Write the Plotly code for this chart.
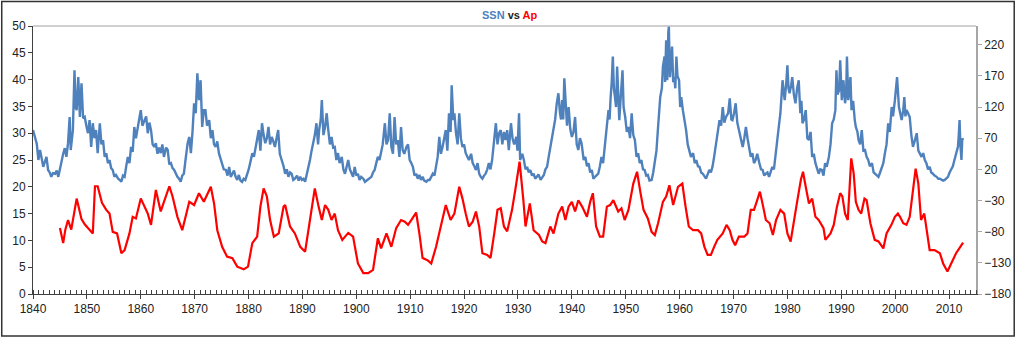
import plotly.graph_objects as go

# ---- data ----
ssn_years = [1840.0, 1840.4, 1840.7, 1841.0, 1841.3, 1841.6, 1841.9, 1842.2, 1842.5, 1842.8, 1843.1, 1843.4, 1843.7, 1844.1, 1844.4, 1844.7, 1845.0, 1845.3, 1845.6, 1845.9, 1846.2, 1846.5, 1846.8, 1847.0, 1847.4, 1847.7, 1847.9, 1848.1, 1848.4, 1848.7, 1849.0, 1849.3, 1849.6, 1849.9, 1850.2, 1850.5, 1850.8, 1851.1, 1851.4, 1851.7, 1852.0, 1852.4, 1852.7, 1853.0, 1853.3, 1853.6, 1853.9, 1854.2, 1854.5, 1854.8, 1855.1, 1855.4, 1855.8, 1856.1, 1856.4, 1856.7, 1857.0, 1857.3, 1857.6, 1857.9, 1858.2, 1858.5, 1858.8, 1859.1, 1859.4, 1859.7, 1860.0, 1860.3, 1860.7, 1861.0, 1861.3, 1861.6, 1861.9, 1862.2, 1862.5, 1862.8, 1863.1, 1863.4, 1863.7, 1864.0, 1864.3, 1864.7, 1865.0, 1865.3, 1865.6, 1865.9, 1866.2, 1866.5, 1866.8, 1867.1, 1867.4, 1867.7, 1868.0, 1868.3, 1868.7, 1869.0, 1869.3, 1869.6, 1869.9, 1870.2, 1870.5, 1870.8, 1871.1, 1871.4, 1871.7, 1872.0, 1872.3, 1872.7, 1873.0, 1873.3, 1873.6, 1873.9, 1874.2, 1874.5, 1874.8, 1875.1, 1875.4, 1875.8, 1876.1, 1876.4, 1876.7, 1877.0, 1877.3, 1877.6, 1877.9, 1878.2, 1878.5, 1878.8, 1879.1, 1879.4, 1879.7, 1880.0, 1880.3, 1880.7, 1881.0, 1881.3, 1881.6, 1881.9, 1882.2, 1882.5, 1882.8, 1883.1, 1883.4, 1883.7, 1884.0, 1884.3, 1884.6, 1884.9, 1885.2, 1885.5, 1885.8, 1886.2, 1886.5, 1886.8, 1887.1, 1887.4, 1887.7, 1888.0, 1888.3, 1888.6, 1889.0, 1889.3, 1889.6, 1889.9, 1890.2, 1890.5, 1890.8, 1891.1, 1891.4, 1891.7, 1892.0, 1892.3, 1892.6, 1892.9, 1893.1, 1893.4, 1893.6, 1893.9, 1894.2, 1894.5, 1894.8, 1895.1, 1895.4, 1895.7, 1896.0, 1896.3, 1896.6, 1896.9, 1897.3, 1897.6, 1897.9, 1898.2, 1898.5, 1898.8, 1899.1, 1899.4, 1899.7, 1900.0, 1900.3, 1900.6, 1900.9, 1901.3, 1901.6, 1901.9, 1902.2, 1902.5, 1902.8, 1903.1, 1903.4, 1903.7, 1904.0, 1904.3, 1904.6, 1904.9, 1905.3, 1905.6, 1905.9, 1906.2, 1906.5, 1906.8, 1907.1, 1907.4, 1907.7, 1908.0, 1908.3, 1908.6, 1908.9, 1909.3, 1909.6, 1909.9, 1910.2, 1910.5, 1910.8, 1911.1, 1911.4, 1911.7, 1912.0, 1912.3, 1912.6, 1913.0, 1913.3, 1913.6, 1913.9, 1914.2, 1914.5, 1914.8, 1915.1, 1915.4, 1915.7, 1916.0, 1916.3, 1916.6, 1916.9, 1917.2, 1917.5, 1917.7, 1918.0, 1918.2, 1918.5, 1918.8, 1919.1, 1919.4, 1919.7, 1920.0, 1920.3, 1920.6, 1920.9, 1921.3, 1921.6, 1921.9, 1922.2, 1922.5, 1922.8, 1923.1, 1923.4, 1923.7, 1924.0, 1924.3, 1924.6, 1924.9, 1925.2, 1925.5, 1925.9, 1926.2, 1926.5, 1926.8, 1927.1, 1927.4, 1927.7, 1928.0, 1928.3, 1928.7, 1929.0, 1929.3, 1929.7, 1929.9, 1930.2, 1930.4, 1930.8, 1931.1, 1931.4, 1931.7, 1932.0, 1932.3, 1932.6, 1932.9, 1933.2, 1933.5, 1933.8, 1934.2, 1934.5, 1934.8, 1935.1, 1935.4, 1935.7, 1936.0, 1936.3, 1936.6, 1936.9, 1937.2, 1937.5, 1937.8, 1938.0, 1938.2, 1938.4, 1938.6, 1938.9, 1939.1, 1939.4, 1939.7, 1940.0, 1940.3, 1940.6, 1940.9, 1941.2, 1941.5, 1941.8, 1942.2, 1942.5, 1942.8, 1943.1, 1943.4, 1943.7, 1944.0, 1944.3, 1944.6, 1944.9, 1945.2, 1945.5, 1945.8, 1946.2, 1946.5, 1946.8, 1947.0, 1947.2, 1947.4, 1947.6, 1947.8, 1948.0, 1948.2, 1948.4, 1948.6, 1948.8, 1949.1, 1949.4, 1949.6, 1949.9, 1950.2, 1950.5, 1950.8, 1951.1, 1951.4, 1951.7, 1952.0, 1952.3, 1952.6, 1952.9, 1953.2, 1953.5, 1953.8, 1954.1, 1954.4, 1954.8, 1955.1, 1955.4, 1955.7, 1956.0, 1956.2, 1956.4, 1956.7, 1956.9, 1957.2, 1957.3, 1957.5, 1957.7, 1957.9, 1958.0, 1958.2, 1958.4, 1958.6, 1958.8, 1959.0, 1959.2, 1959.4, 1959.6, 1959.9, 1960.1, 1960.3, 1960.6, 1960.9, 1961.2, 1961.5, 1961.8, 1962.1, 1962.5, 1962.8, 1963.1, 1963.4, 1963.7, 1964.0, 1964.3, 1964.6, 1964.9, 1965.2, 1965.5, 1965.8, 1966.1, 1966.4, 1966.7, 1967.1, 1967.4, 1967.7, 1968.0, 1968.3, 1968.6, 1969.0, 1969.3, 1969.6, 1969.8, 1970.1, 1970.4, 1970.7, 1971.1, 1971.4, 1971.7, 1972.0, 1972.3, 1972.6, 1972.9, 1973.2, 1973.5, 1973.8, 1974.1, 1974.4, 1974.8, 1975.1, 1975.4, 1975.7, 1976.0, 1976.3, 1976.6, 1976.9, 1977.2, 1977.5, 1977.8, 1978.1, 1978.4, 1978.7, 1978.9, 1979.1, 1979.3, 1979.5, 1979.8, 1980.0, 1980.2, 1980.4, 1980.7, 1980.9, 1981.2, 1981.5, 1981.8, 1982.1, 1982.4, 1982.6, 1982.8, 1983.1, 1983.4, 1983.7, 1984.0, 1984.3, 1984.6, 1984.9, 1985.2, 1985.5, 1985.8, 1986.1, 1986.4, 1986.7, 1987.0, 1987.3, 1987.7, 1988.0, 1988.3, 1988.6, 1988.9, 1989.1, 1989.3, 1989.6, 1989.8, 1990.0, 1990.1, 1990.4, 1990.7, 1990.9, 1991.05, 1991.3, 1991.5, 1991.7, 1991.9, 1992.2, 1992.5, 1992.7, 1993.0, 1993.2, 1993.5, 1993.8, 1994.1, 1994.4, 1994.7, 1995.0, 1995.3, 1995.7, 1996.0, 1996.3, 1996.6, 1996.9, 1997.2, 1997.5, 1997.8, 1998.1, 1998.4, 1998.7, 1999.0, 1999.35, 1999.6, 1999.95, 2000.2, 2000.35, 2000.7, 2000.9, 2001.2, 2001.5, 2001.7, 2001.9, 2002.1, 2002.4, 2002.7, 2003.0, 2003.3, 2003.6, 2004.0, 2004.3, 2004.6, 2004.9, 2005.2, 2005.5, 2005.8, 2006.1, 2006.4, 2006.7, 2007.0, 2007.3, 2007.7, 2008.0, 2008.3, 2008.6, 2008.9, 2009.2, 2009.5, 2009.8, 2010.1, 2010.4, 2010.7, 2011.0, 2011.3, 2011.65, 2011.8, 2011.95, 2012.1, 2012.3, 2012.45, 2012.6]
ssn_values = [83, 70, 61, 35, 51, 38, 24, 32, 40, 19, 15, 8, 14, 13, 18, 8, 22, 30, 45, 54, 40, 62, 104, 51, 83, 179, 120, 115, 168, 104, 158, 102, 104, 90, 78, 99, 56, 94, 70, 83, 46, 94, 60, 67, 40, 46, 30, 35, 22, 19, 8, 11, 5, 3, 0, 10, 8, 25, 40, 30, 56, 48, 88, 70, 88, 100, 115, 90, 99, 105, 78, 95, 83, 60, 56, 62, 45, 55, 46, 60, 40, 55, 51, 28, 30, 22, 19, 12, 8, 5, 0, 10, 13, 35, 62, 72, 46, 80, 126, 110, 174, 131, 163, 88, 115, 115, 90, 99, 70, 83, 60, 56, 65, 46, 38, 30, 20, 19, 10, 24, 8, 13, 18, 8, 3, 11, 2, 0, 5, 3, 10, 19, 30, 46, 40, 56, 70, 83, 50, 94, 75, 62, 70, 88, 60, 72, 65, 56, 70, 83, 45, 35, 25, 13, 20, 8, 15, 13, 3, 5, 10, 2, 8, 3, 5, 0, 11, 20, 35, 50, 62, 75, 94, 60, 83, 100, 131, 75, 88, 110, 83, 60, 72, 55, 56, 35, 46, 30, 40, 20, 13, 25, 35, 20, 13, 8, 24, 10, 13, 3, 8, 5, 0, 2, 3, 5, 8, 15, 19, 30, 40, 35, 46, 60, 94, 60, 67, 110, 56, 45, 104, 60, 67, 40, 88, 51, 45, 56, 60, 35, 30, 24, 10, 13, 5, 11, 3, 8, 2, 0, 3, 3, 8, 13, 10, 24, 40, 72, 45, 56, 70, 83, 50, 110, 80, 155, 99, 110, 78, 60, 110, 70, 56, 60, 46, 40, 35, 45, 30, 25, 19, 30, 13, 8, 5, 10, 13, 20, 30, 20, 35, 60, 94, 60, 78, 83, 60, 80, 67, 83, 51, 94, 69, 60, 72, 50, 110, 35, 45, 35, 20, 24, 15, 19, 10, 13, 5, 8, 12, 3, 8, 11, 20, 24, 40, 56, 70, 83, 100, 126, 142, 110, 100, 131, 100, 166, 110, 90, 120, 85, 72, 80, 104, 60, 51, 70, 62, 35, 40, 25, 30, 15, 19, 5, 8, 10, 13, 25, 40, 30, 72, 90, 115, 100, 136, 160, 201, 150, 136, 120, 185, 130, 99, 140, 179, 120, 104, 80, 88, 70, 110, 75, 67, 40, 46, 30, 35, 20, 19, 10, 11, 2, 3, 15, 30, 50, 88, 110, 136, 150, 185, 201, 160, 227, 163, 240, 249, 168, 190, 217, 160, 168, 150, 201, 170, 163, 120, 136, 115, 100, 83, 60, 51, 40, 46, 30, 35, 25, 24, 15, 13, 8, 5, 12, 19, 15, 24, 40, 56, 80, 99, 90, 120, 95, 104, 110, 134, 100, 99, 110, 126, 95, 78, 65, 56, 70, 88, 70, 56, 40, 46, 30, 35, 45, 30, 20, 19, 10, 13, 15, 8, 15, 24, 20, 40, 60, 88, 110, 140, 163, 145, 131, 160, 187, 150, 142, 155, 168, 140, 126, 150, 163, 110, 130, 94, 100, 115, 70, 67, 80, 40, 45, 30, 20, 13, 20, 19, 10, 30, 24, 40, 60, 94, 100, 115, 179, 140, 147, 195, 150, 131, 163, 126, 140, 201, 131, 150, 168, 115, 130, 99, 88, 80, 67, 60, 83, 50, 51, 40, 35, 25, 30, 15, 13, 10, 8, 15, 24, 30, 46, 60, 94, 80, 120, 105, 131, 150, 168, 120, 110, 99, 115, 136, 105, 115, 110, 104, 75, 56, 65, 78, 50, 46, 40, 46, 35, 30, 20, 24, 15, 13, 10, 8, 5, 5, 3, 2, 3, 5, 8, 15, 19, 25, 35, 45, 56, 75, 99, 60, 35, 70, 67]

ap_years = [1845.0, 1845.6, 1846.0, 1846.5, 1847.1, 1847.4, 1848.1, 1849.0, 1849.6, 1850.2, 1851.1, 1851.5, 1852.0, 1852.8, 1853.6, 1854.2, 1854.8, 1855.6, 1856.4, 1857.0, 1857.9, 1858.5, 1859.1, 1860.0, 1860.7, 1861.3, 1861.9, 1862.8, 1863.7, 1864.7, 1865.3, 1865.9, 1866.8, 1867.7, 1868.7, 1869.0, 1869.9, 1870.8, 1871.7, 1872.4, 1873.0, 1873.6, 1874.2, 1875.1, 1876.0, 1877.0, 1877.9, 1879.1, 1879.9, 1880.7, 1881.6, 1882.2, 1882.8, 1883.4, 1884.0, 1884.7, 1885.6, 1886.5, 1886.8, 1887.7, 1888.6, 1889.6, 1890.5, 1891.4, 1892.3, 1893.0, 1893.6, 1894.2, 1894.8, 1895.4, 1896.0, 1896.6, 1897.4, 1898.5, 1899.4, 1900.3, 1901.3, 1902.2, 1903.1, 1904.0, 1904.6, 1905.6, 1906.5, 1907.4, 1908.3, 1909.0, 1909.6, 1910.2, 1911.1, 1911.7, 1912.3, 1913.2, 1913.9, 1914.8, 1915.7, 1916.6, 1917.5, 1918.2, 1919.1, 1919.7, 1920.3, 1920.9, 1921.6, 1922.2, 1922.8, 1923.4, 1924.3, 1924.9, 1925.6, 1926.2, 1926.8, 1927.4, 1928.0, 1928.9, 1929.5, 1930.3, 1931.0, 1931.4, 1932.2, 1932.9, 1933.9, 1934.5, 1935.1, 1936.0, 1936.6, 1937.5, 1938.2, 1938.8, 1939.4, 1940.0, 1940.6, 1941.2, 1941.9, 1942.8, 1943.4, 1943.9, 1944.5, 1945.2, 1945.8, 1946.5, 1947.1, 1947.7, 1948.6, 1949.2, 1949.8, 1950.5, 1951.4, 1952.1, 1952.7, 1953.3, 1954.1, 1954.8, 1955.4, 1956.0, 1956.9, 1957.5, 1958.1, 1958.8, 1959.7, 1960.5, 1961.1, 1961.7, 1962.5, 1963.4, 1964.0, 1964.6, 1965.2, 1965.8, 1966.4, 1967.0, 1968.0, 1968.7, 1969.3, 1969.8, 1970.3, 1971.0, 1972.0, 1972.6, 1973.2, 1973.8, 1974.4, 1974.9, 1975.5, 1976.0, 1976.7, 1977.3, 1977.9, 1978.7, 1979.4, 1980.0, 1980.6, 1981.2, 1981.8, 1982.5, 1982.9, 1983.4, 1984.0, 1984.6, 1985.2, 1985.8, 1986.7, 1987.05, 1988.0, 1988.6, 1989.2, 1989.8, 1990.2, 1990.7, 1991.2, 1991.85, 1992.3, 1992.7, 1993.2, 1993.7, 1994.3, 1994.7, 1995.4, 1996.2, 1996.9, 1997.8, 1998.4, 1999.3, 1999.95, 2000.5, 2000.9, 2001.5, 2002.1, 2002.7, 2003.3, 2003.8, 2004.3, 2004.8, 2005.4, 2005.8, 2006.4, 2007.3, 2008.3, 2008.9, 2009.7, 2010.4, 2011.3, 2011.9, 2012.6]
ap_values = [12.3, 9.5, 12, 13.8, 12, 13.8, 17.8, 14, 13, 12.3, 11.3, 20.1, 20.1, 17, 15.7, 15, 11.6, 11.3, 7.6, 8.2, 11.3, 14.4, 14.1, 17.8, 16.3, 15, 12.9, 19.4, 15.4, 18.5, 20.1, 18.2, 14.4, 11.9, 16.3, 17.2, 16.6, 18.8, 17.2, 18.8, 20, 16.9, 11.9, 8.8, 7, 6.7, 5.1, 4.6, 5.1, 9.5, 10.7, 16.3, 19.7, 18.2, 13.8, 10.7, 11.3, 16.3, 16.6, 12.6, 11.3, 8.8, 7.9, 13.8, 19.7, 16.3, 13.8, 16.6, 15.7, 13.8, 15, 11.9, 10.1, 11.4, 10.7, 5.7, 3.9, 3.9, 4.5, 10.4, 8.5, 11.3, 8.8, 12.3, 13.8, 13.5, 12.9, 13.8, 15.2, 11.3, 6.7, 6.3, 5.7, 8.8, 12.6, 16.6, 13.8, 15, 20, 17.8, 15, 12.6, 13.5, 15.4, 12.6, 7.6, 7.3, 6.7, 11.3, 15.7, 16, 12.6, 11.7, 15.7, 19.4, 24.7, 17.5, 12.6, 16.9, 11.9, 11, 9.8, 9.5, 12.6, 11.3, 15, 16.3, 13.8, 16.3, 17.2, 15.4, 17.5, 16.3, 14.4, 17.2, 18.8, 12.6, 10.7, 10.7, 16.3, 16.6, 17.5, 15.4, 16, 13.8, 15.7, 20.6, 22.8, 19.1, 15.7, 14.1, 11.6, 11, 13.2, 17.2, 18.2, 20.3, 16.6, 20, 20.6, 16.3, 12.6, 11.9, 11.9, 11.3, 8.8, 7.3, 7.3, 8.8, 10.1, 11.3, 12.9, 11.9, 10.1, 9.1, 10.7, 10.7, 11.3, 15.7, 15.7, 17.5, 19.1, 16.3, 13.8, 13.2, 11, 13.8, 15.7, 15, 11.3, 9.8, 13.8, 17.2, 21.3, 22.8, 20, 16.9, 17.8, 14.4, 13.8, 12.3, 10.1, 11.3, 12.9, 16.3, 18.8, 18.2, 15, 13.8, 25.3, 22.5, 17.2, 15.7, 15, 17.8, 17.5, 13.2, 10.1, 9.8, 8.5, 11.3, 12.9, 14.4, 15, 14.4, 13.2, 12.9, 14.4, 19.4, 23.4, 20.6, 13.8, 15, 12.6, 8.2, 8.2, 7.6, 5.7, 4.2, 5.7, 7.6, 8.5, 9.6]

x_range = [1840, 2015]
left_range = [0, 50]
right_range = [-180, 250]

W, H = 1024, 339
L, R, T, B = 33, 41, 26, 45
pw, ph = W - L - R, H - T - B

def px(xp):
    return (xp - L) / pw

def py(yp):
    return (H - B - yp) / ph

BLUE = "#4F81BD"
RED = "#FF0000"
FONT = "Liberation Sans, Arial, sans-serif"

fig = go.Figure()
fig.add_trace(go.Scatter(x=ssn_years, y=ssn_values, mode="lines", name="SSN",
                         line=dict(color=BLUE, width=2.4), yaxis="y", xaxis="x"))
fig.add_trace(go.Scatter(x=ap_years, y=ap_values, mode="lines", name="Ap",
                         line=dict(color=RED, width=2.2), yaxis="y2", xaxis="x"))

fig.update_layout(
    width=W, height=H,
    margin=dict(l=L, r=R, t=T, b=B, pad=0),
    paper_bgcolor="white", plot_bgcolor="white",
    showlegend=False,
    font=dict(family=FONT, size=12, color="#222222"),
    xaxis=dict(range=x_range, tick0=1840, dtick=10, showgrid=False, zeroline=False,
               showline=True, linecolor="#404040", linewidth=1,
               ticks="outside", ticklen=4, tickcolor="#404040",
               minor=dict(dtick=1, tick0=1840, ticks="inside", ticklen=4, tickcolor="#404040", showgrid=False),
               tickfont=dict(size=12, color="#222222")),
    yaxis=dict(range=right_range, side="right", tick0=-180, dtick=50, showgrid=False, zeroline=False,
               showline=True, linecolor="#A6A6A6", linewidth=1.5,
               ticks="outside", ticklen=4, tickcolor="#A6A6A6",
               tickfont=dict(size=12, color="#222222")),
    yaxis2=dict(range=left_range, side="left", overlaying="y", tick0=0, dtick=5, showgrid=False, zeroline=False,
                showline=True, linecolor="#404040", linewidth=1,
                ticks="outside", ticklen=4, tickcolor="#404040",
                tickfont=dict(size=12, color="#222222")),
    shapes=[
        dict(type="line", xref="paper", yref="paper", x0=0, x1=1, y0=1, y1=1,
             line=dict(color="#A0A0A0", width=1)),
        dict(type="rect", xref="paper", yref="paper", x0=px(1.5), x1=px(1021.5), y0=py(336), y1=py(1.5),
             line=dict(color="#333333", width=1.5), fillcolor="rgba(0,0,0,0)"),
    ],
    annotations=[
        dict(xref="paper", yref="paper", x=px(514), y=py(15), xanchor="center", yanchor="middle",
             showarrow=False,
             text="<b><span style='color:%s'>SSN</span> <span style='color:#222222'>vs</span> <span style='color:%s'>Ap</span></b>" % (BLUE, RED),
             font=dict(family=FONT, size=11)),
    ],
)

fig.write_html("out.html")
